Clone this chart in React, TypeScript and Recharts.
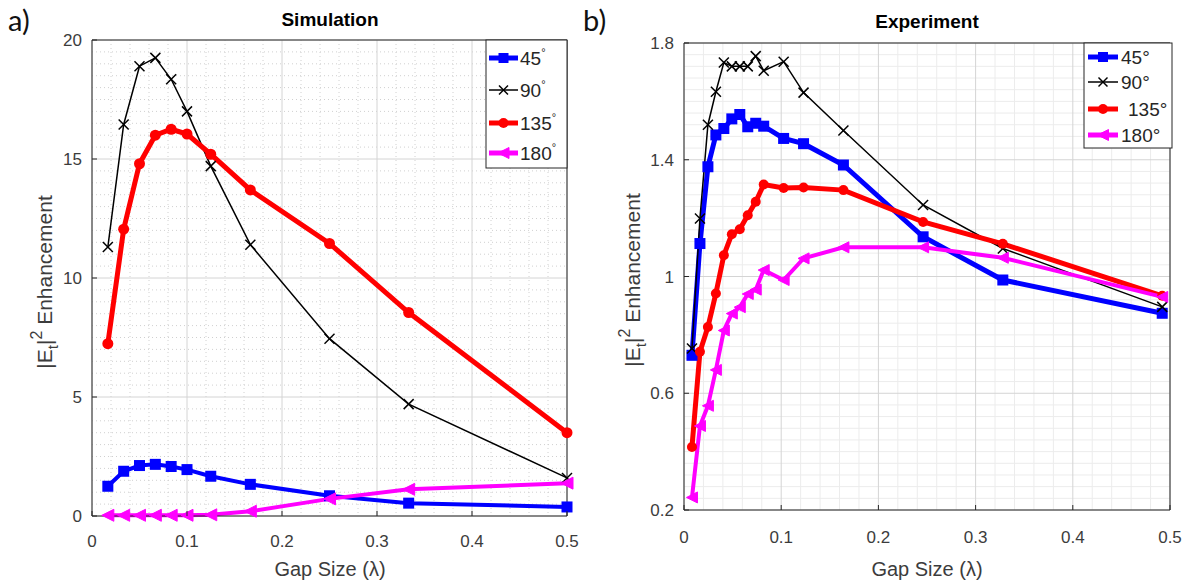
import React from 'react';
import { LineChart, Line, XAxis, YAxis, CartesianGrid } from 'recharts';

// ---------- data: Simulation (panel a) ----------
const simGap = [1 / 60, 2 / 60, 3 / 60, 4 / 60, 5 / 60, 6 / 60, 1 / 8, 1 / 6, 1 / 4, 1 / 3, 1 / 2];
const sim45 = [1.25, 1.88, 2.12, 2.17, 2.08, 1.95, 1.67, 1.33, 0.85, 0.54, 0.38];
const sim90 = [11.3, 16.45, 18.9, 19.25, 18.35, 17.0, 14.7, 11.4, 7.45, 4.7, 1.6];
const sim135 = [7.24, 12.05, 14.8, 16.0, 16.25, 16.05, 15.2, 13.7, 11.45, 8.55, 3.5];
const sim180 = [0.03, 0.03, 0.03, 0.03, 0.03, 0.03, 0.05, 0.2, 0.72, 1.12, 1.38];

// ---------- data: Experiment (panel b) ----------
const expGap = [0.0082, 0.0164, 0.0246, 0.0328, 0.041, 0.0492, 0.0574, 0.0656, 0.0738, 0.082, 0.1025, 0.123, 0.164, 0.246, 0.328, 0.492];
const exp45 = [0.73, 1.113, 1.376, 1.485, 1.507, 1.54, 1.555, 1.513, 1.525, 1.515, 1.473, 1.455, 1.382, 1.136, 0.988, 0.874];
const exp90 = [0.753, 1.199, 1.52, 1.633, 1.733, 1.72, 1.72, 1.72, 1.755, 1.705, 1.736, 1.63, 1.5, 1.245, 1.096, 0.896];
const exp135 = [0.416, 0.742, 0.827, 0.942, 1.073, 1.145, 1.162, 1.21, 1.256, 1.315, 1.303, 1.305, 1.296, 1.187, 1.112, 0.934];
const exp180 = [0.243, 0.488, 0.557, 0.68, 0.815, 0.873, 0.895, 0.94, 0.955, 1.022, 0.988, 1.062, 1.1, 1.1, 1.064, 0.93];

// ---------- ticks ----------
const xTicks = [0, 0.1, 0.2, 0.3, 0.4, 0.5];
const xTickLabels = ['0', '0.1', '0.2', '0.3', '0.4', '0.5'];
const simYTicks = [0, 5, 10, 15, 20];
const simYTickLabels = ['0', '5', '10', '15', '20'];
const expYTicks = [0.2, 0.6, 1, 1.4, 1.8];
const expYTickLabels = ['0.2', '0.6', '1', '1.4', '1.8'];

const legendNames = ['45', '90', '135', '180'];

const AXIS = '#262626';
const TXT = '#3c3c3c';
const FONT = '"Liberation Sans", Arial, sans-serif';

const BLUE = '#0000ff';
const BLACK = '#000000';
const RED = '#ff0000';
const MAGENTA = '#ff00ff';

function minorValues(lo: number, hi: number, step: number, majors: number[]) {
  const out: number[] = [];
  const n = Math.round((hi - lo) / step);
  for (let i = 1; i < n; i++) {
    const v = Math.round((lo + i * step) * 10000) / 10000;
    if (!majors.some((m) => Math.abs(m - v) < 1e-6)) out.push(v);
  }
  return out;
}

const zip = (xs: number[], ys: number[]) => xs.map((x, i) => ({ x, y: ys[i] }));

// ---------- marker shapes ----------
function Marker({ kind, cx, cy, size, color }: any) {
  if (cx == null || cy == null) return null;
  const h = size / 2;
  if (kind === 'square') return <rect x={cx - h} y={cy - h} width={size} height={size} fill={color} />;
  if (kind === 'circle') return <circle cx={cx} cy={cy} r={h} fill={color} />;
  if (kind === 'x')
    return (
      <g stroke={color} strokeWidth={1.5}>
        <line x1={cx - h} y1={cy - h} x2={cx + h} y2={cy + h} />
        <line x1={cx - h} y1={cy + h} x2={cx + h} y2={cy - h} />
      </g>
    );
  if (kind === 'tri')
    return <polygon points={`${cx - h},${cy} ${cx + h},${cy - h} ${cx + h},${cy + h}`} fill={color} stroke={color} strokeWidth={1} />;
  return null;
}

const dotFn = (kind: string, size: number, color: string) => (p: any) => (
  <Marker key={`d-${kind}-${p.index}`} kind={kind} cx={p.cx} cy={p.cy} size={size} color={color} />
);

type Series = { data: { x: number; y: number }[]; color: string; width: number; kind: string; size: number };

function Panel({ width, height, margin, yDomain, yTicks, yTickLabels, minorX, minorY, minorDash, minorColor, series, xLabelDy }: any) {
  const BottomTick = (p: any) => {
    const i = xTicks.findIndex((t) => Math.abs(t - p.payload.value) < 1e-9);
    return (
      <g>
        <line x1={p.x} y1={p.y} x2={p.x} y2={p.y - 5} stroke={AXIS} />
        <text x={p.x} y={p.y + xLabelDy} textAnchor="middle" fontSize={17} fill={TXT} fontFamily={FONT}>
          {xTickLabels[i]}
        </text>
      </g>
    );
  };
  const TopTick = (p: any) => <line x1={p.x} y1={p.y} x2={p.x} y2={p.y + 5} stroke={AXIS} />;
  const LeftTick = (p: any) => {
    const i = yTicks.findIndex((t: number) => Math.abs(t - p.payload.value) < 1e-9);
    return (
      <g>
        <line x1={p.x} y1={p.y} x2={p.x + 5} y2={p.y} stroke={AXIS} />
        <text x={p.x - 10} y={p.y + 6} textAnchor="end" fontSize={17} fill={TXT} fontFamily={FONT}>
          {yTickLabels[i]}
        </text>
      </g>
    );
  };
  const RightTick = (p: any) => <line x1={p.x} y1={p.y} x2={p.x - 5} y2={p.y} stroke={AXIS} />;

  const common = { tickSize: 0, tickMargin: 0, tickLine: false, axisLine: { stroke: AXIS }, interval: 0 as const };

  return (
    <LineChart width={width} height={height} margin={margin}>
      <CartesianGrid verticalValues={minorX} horizontalValues={minorY} stroke={minorColor} strokeDasharray={minorDash} />
      <CartesianGrid stroke="#d4d4d4" />
      <XAxis dataKey="x" type="number" domain={[0, 0.5]} ticks={xTicks} height={1} tick={BottomTick} {...common} />
      <XAxis
        xAxisId="top"
        orientation="top"
        dataKey="x"
        type="number"
        domain={[0, 0.5]}
        ticks={xTicks}
        height={1}
        tick={TopTick}
        {...common}
      />
      <YAxis type="number" domain={yDomain} ticks={yTicks} width={1} tick={LeftTick} {...common} />
      <YAxis
        yAxisId="right"
        orientation="right"
        type="number"
        domain={yDomain}
        ticks={yTicks}
        width={1}
        tick={RightTick}
        {...common}
      />
      {series.map((s: Series, i: number) => (
        <Line
          key={i}
          data={s.data}
          dataKey="y"
          type="linear"
          stroke={s.color}
          strokeWidth={s.width}
          dot={dotFn(s.kind, s.size, s.color)}
          activeDot={false}
          isAnimationActive={false}
          legendType="none"
        />
      ))}
    </LineChart>
  );
}

function LegendBox({ x, y, w, h, rows, rowYs, lineX0, lineX1, textX, sup, styles }: any) {
  return (
    <g>
      <rect x={x} y={y} width={w} height={h} fill="#ffffff" stroke={AXIS} strokeWidth={1} />
      {rows.map((name: string, i: number) => {
        const st = styles[i];
        const ry = rowYs[i];
        const mx = (lineX0 + lineX1) / 2;
        return (
          <g key={i}>
            <line x1={lineX0} y1={ry} x2={lineX1} y2={ry} stroke={st.color} strokeWidth={st.width} />
            <Marker kind={st.kind} cx={mx} cy={ry} size={st.size} color={st.color} />
            <text x={textX[i]} y={ry + 7} fontSize={19} fill={AXIS} fontFamily={FONT}>
              {name}
              {sup ? (
                <tspan dy={-9} fontSize={11}>
                  °
                </tspan>
              ) : (
                '°'
              )}
            </text>
          </g>
        );
      })}
    </g>
  );
}

function YLabel({ x, y }: any) {
  return (
    <text transform={`translate(${x},${y}) rotate(-90)`} textAnchor="middle" fontSize={21} fill={TXT} fontFamily={FONT}>
      |E
      <tspan dy={6} fontSize={15}>
        t
      </tspan>
      <tspan dy={-6}>|</tspan>
      <tspan dy={-10} fontSize={16}>
        2
      </tspan>
      <tspan dy={10}> Enhancement</tspan>
    </text>
  );
}

export default function App() {
  const simSeries: Series[] = [
    { data: zip(simGap, sim45), color: BLUE, width: 4, kind: 'square', size: 11 },
    { data: zip(simGap, sim90), color: BLACK, width: 1.5, kind: 'x', size: 10 },
    { data: zip(simGap, sim135), color: RED, width: 5, kind: 'circle', size: 11 },
    { data: zip(simGap, sim180), color: MAGENTA, width: 4, kind: 'tri', size: 12 },
  ];
  const expSeries: Series[] = [
    { data: zip(expGap, exp45), color: BLUE, width: 5, kind: 'square', size: 11 },
    { data: zip(expGap, exp90), color: BLACK, width: 1.5, kind: 'x', size: 10 },
    { data: zip(expGap, exp135), color: RED, width: 5, kind: 'circle', size: 10 },
    { data: zip(expGap, exp180), color: MAGENTA, width: 4, kind: 'tri', size: 11 },
  ];
  const legendStyles = [
    { color: BLUE, width: 5, kind: 'square', size: 10 },
    { color: BLACK, width: 1.5, kind: 'x', size: 9 },
    { color: RED, width: 5, kind: 'circle', size: 10 },
    { color: MAGENTA, width: 5, kind: 'tri', size: 11 },
  ];

  return (
    <div style={{ position: 'absolute', left: 0, top: 0, width: 1199, height: 585, background: '#ffffff', fontFamily: FONT }}>
      <div style={{ position: 'absolute', left: 0, top: 0 }}>
        <Panel
          width={600}
          height={585}
          margin={{ top: 39, right: 32, bottom: 68, left: 91 }}
          yDomain={[0, 20]}
          yTicks={simYTicks}
          yTickLabels={simYTickLabels}
          minorX={minorValues(0, 0.5, 0.02, xTicks)}
          minorY={minorValues(0, 20, 0.5, simYTicks)}
          minorDash="1 3"
          minorColor="#d0d0d0"
          series={simSeries}
          xLabelDy={31}
        />
      </div>
      <div style={{ position: 'absolute', left: 600, top: 0 }}>
        <Panel
          width={599}
          height={585}
          margin={{ top: 42, right: 28, bottom: 74, left: 83 }}
          yDomain={[0.2, 1.8]}
          yTicks={expYTicks}
          yTickLabels={expYTickLabels}
          minorX={minorValues(0, 0.5, 0.02, xTicks)}
          minorY={minorValues(0.2, 1.8, 0.04, expYTicks)}
          minorDash=""
          minorColor="#ececec"
          series={expSeries}
          xLabelDy={33}
        />
      </div>
      <svg width={1199} height={585} style={{ position: 'absolute', left: 0, top: 0, pointerEvents: 'none' }}>
        <text x={8} y={31} fontSize={29} fill="#111" fontFamily="Lato, 'Open Sans', sans-serif">
          a)
        </text>
        <text x={583} y={31} fontSize={29} fill="#111" fontFamily="Lato, 'Open Sans', sans-serif">
          b)
        </text>
        <text x={330} y={26} textAnchor="middle" fontSize={19} fontWeight="bold" fill="#000" fontFamily={FONT}>
          Simulation
        </text>
        <text x={927} y={28} textAnchor="middle" fontSize={19} fontWeight="bold" fill="#000" fontFamily={FONT}>
          Experiment
        </text>
        <text x={330} y={576} textAnchor="middle" fontSize={20} fill={TXT} fontFamily={FONT}>
          Gap Size (λ)
        </text>
        <text x={927} y={576} textAnchor="middle" fontSize={20} fill={TXT} fontFamily={FONT}>
          Gap Size (λ)
        </text>
        <YLabel x={52} y={282} />
        <YLabel x={640} y={280} />
        <LegendBox
          x={486}
          y={40}
          w={81}
          h={128}
          rows={legendNames}
          rowYs={[58, 90, 123, 153]}
          lineX0={489}
          lineX1={518}
          textX={[520, 520, 520, 520]}
          sup={true}
          styles={legendStyles}
        />
        <LegendBox
          x={1084}
          y={43}
          w={88}
          h={105}
          rows={legendNames}
          rowYs={[57, 82, 109, 135]}
          lineX0={1088}
          lineX1={1118}
          textX={[1121, 1121, 1128, 1121]}
          sup={false}
          styles={legendStyles}
        />
      </svg>
    </div>
  );
}
